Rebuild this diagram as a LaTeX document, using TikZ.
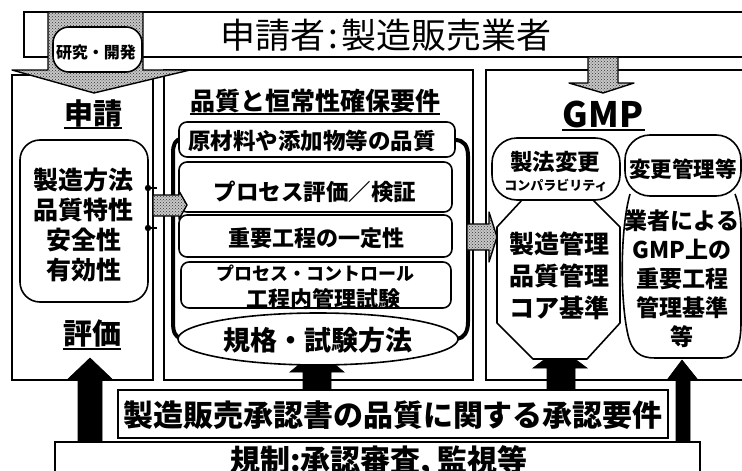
\documentclass[tikz,border=0pt]{standalone}
\usepackage{fontspec}
\setmainfont{Noto Sans CJK JP}
\usetikzlibrary{patterns,shapes.geometric}
\newcommand\myfs[1]{\fontsize{#1}{#1}\selectfont}
\tikzset{
  outl/.style={draw, line width=1.6pt},
  stip/.style={draw, line width=1.4pt, line join=round, preaction={fill=black!22}, pattern=crosshatch dots, pattern color=black!80},
  rbox/.style={draw, line width=1.6pt, fill=white, rounded corners=#1, inner sep=0pt},
  rbox/.default=8pt,
  txt/.style={inner sep=0pt, align=center},
  btxt/.style={inner sep=0pt, align=center, font=\bfseries\myfs{#1}},
  blk/.style={fill=black, draw=black, line width=0.6pt, line join=miter},
  brk/.style={line width=4pt, line cap=round},
  uline/.style={line width=1.8pt},
  wshape/.style={draw, fill=white, line width=1.6pt, line join=round},
}
\begin{document}
\begin{tikzpicture}[x=1pt,y=-1pt]
\useasboundingbox (0,0) rectangle (742,471);
\clip (0,0) rectangle (742,471);
\fill[white] (0,0) rectangle (742,471);

% top banner
\draw[outl] (24,12) rectangle (770,57);
\node[txt, font=\myfs{35}] (banner) at (386,35) {申請者\kern3pt:\kern3pt製造販売業者};

% panels
\draw[outl] (12,75) rectangle (153,380);
\draw[outl] (164,70) rectangle (473,380);
\draw[outl] (486,70) rectangle (770,380);

% black up arrows
\draw[blk] (78,442) -- (78,379) -- (68,379) -- (90,358) -- (112,379) -- (102,379) -- (102,442) -- cycle;
\draw[blk] (303,390) -- (303,372) -- (290,372) -- (317,350) -- (344,372) -- (331,372) -- (331,390) -- cycle;
\draw[blk] (547,390) -- (547,368) -- (533,368) -- (560,348) -- (587,368) -- (575,368) -- (575,390) -- cycle;
\draw[blk] (676,442) -- (676,380) -- (667,380) -- (682,360) -- (698,380) -- (690,380) -- (690,442) -- cycle;

% research arrow
\draw[stip] (48,12) -- (48,70) -- (12,70) -- (94,93) -- (190,70) -- (143,70) -- (143,12) -- cycle;
\node[rbox=16pt, minimum width=89pt, minimum height=45pt] (rd) at (97.5,49.5) {};
\node[btxt=16] (rdt) at (96,52) {研究・開発};

% GMP arrow
\draw[stip] (588,57) -- (618,57) -- (618,83) -- (634,83) -- (603,93) -- (569,83) -- (588,83) -- cycle;

% left panel
\node[btxt=29] (sq) at (93,113) {申請};
\draw[uline] ([yshift=-1pt]sq.south west) -- ([yshift=-1pt]sq.south east);
\node[rbox=20pt, minimum width=128pt, minimum height=162pt] (lb) at (84,221) {};
\node[txt, font=\bfseries\fontsize{25}{30}\selectfont] (lbt) at (84,225) {製造方法\\品質特性\\安全性\\有効性};
\node[btxt=29] (hk) at (92,334) {評価};
\draw[uline] ([yshift=-1pt]hk.south west) -- ([yshift=-1pt]hk.south east);
\fill (148,188) circle (3.2pt);
\fill (148,228) circle (3.2pt);
\draw[line width=1.6pt] (148,188) -- (157,188);
\draw[line width=1.6pt] (148,228) -- (157,228);

% middle panel
\node[btxt=25] (mt) at (315,101) {品質と恒常性確保要件};
\draw[uline] ([yshift=-1pt]mt.south west) -- ([yshift=-1pt]mt.south east);
\draw[brk] (182,139) .. controls (175,139) and (173,145) .. (173,153) -- (173,322) .. controls (173,332) and (175,337) .. (181,338);
\draw[brk] (455,140) .. controls (464,140) and (468,146) .. (468,156) -- (468,322) .. controls (468,332) and (464,338) .. (457,339);
\node[rbox=8pt, minimum width=276pt, minimum height=35pt] (b1) at (317,139.5) {};
\node[rbox=8pt, minimum width=273pt, minimum height=50pt] (b2) at (315.5,187) {};
\node[rbox=8pt, minimum width=273pt, minimum height=42pt] (b3) at (315.5,236) {};
\node[rbox=8pt, minimum width=270pt, minimum height=46pt] (b4) at (316,285) {};
\node[btxt=22.5] (b1t) at (312,141) {原材料や添加物等の品質};
\node[btxt=22.5] (b2t) at (315,192) {プロセス評価／検証};
\node[btxt=22] (b3t) at (316,238) {重要工程の一定性};
\node[btxt=18] (b4a) at (315,273) {プロセス・コントロール};
\node[btxt=22] (b4b) at (323,299) {工程内管理試験};
\node[ellipse, draw, fill=white, line width=1.6pt, minimum width=280pt, minimum height=52pt, inner sep=0pt] (el) at (318,339) {};
\node[btxt=27] (elt) at (318,340) {規格・試験方法};

% stipple side arrows
\draw[stip] (153,195) -- (179,195) -- (179,191) -- (187,205) -- (179,219) -- (179,216) -- (153,216) -- cycle;
\draw[stip] (467,224) -- (489,224) -- (489,212) -- (497,237) -- (489,262) -- (489,250) -- (467,250) -- cycle;

% right panel
\node[txt, font=\bfseries\myfs{35}] (gmp) at (603,114) {GMP};
\draw[uline] (562,130) -- (645,130);
\draw[wshape] (522,200) -- (497,227) -- (497,323) -- (533,359) -- (587,359) -- (620,323) -- (620,227) -- (593,200) -- cycle;
\node[rbox=25pt, minimum width=128pt, minimum height=62pt] (sh) at (556,169) {};
\node[btxt=22.5] (sht) at (555,162) {製法変更};
\node[btxt=13] (shk) at (556,185) {コンパラビリティ};
\node[txt, font=\bfseries\fontsize{25}{32}\selectfont] (oct) at (559,276) {製造管理\\品質管理\\コア基準};
\draw[wshape] (630,194) .. controls (620,230) and (620,300) .. (628,335) .. controls (632,352) and (640,358) .. (655,358) -- (722,358) .. controls (736,358) and (741,346) .. (741,322) -- (741,232) .. controls (741,212) and (738,202) .. (735,194);
\node[rbox=25pt, minimum width=116pt, minimum height=61pt] (hk2) at (683,165.5) {};
\node[btxt=21.5] (hk2t) at (683,169) {変更管理等};
\node[txt, font=\bfseries\fontsize{23}{29}\selectfont] (gy) at (682,279) {業者による\\GMP上の\\重要工程\\管理基準\\等};

% bottom boxes
\node[draw, fill=white, line width=2.2pt, minimum width=550pt, minimum height=48pt, inner sep=0pt] (sy) at (393,414) {};
\node[btxt=30] (syt) at (393,415) {製造販売承認書の品質に関する承認要件};
\node[draw, fill=white, line width=1.8pt, minimum width=645pt, minimum height=50pt, inner sep=0pt] (kr) at (377.5,467) {};
\node[btxt=30] (krt) at (379,462) {規制:承認審査, 監視等};
\end{tikzpicture}
\end{document}
